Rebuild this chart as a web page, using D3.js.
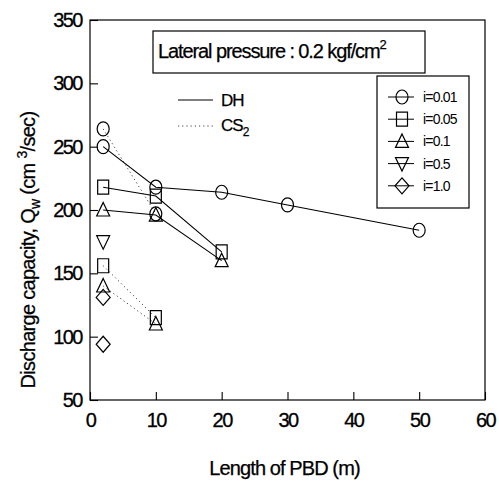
<!DOCTYPE html>
<html>
<head>
<meta charset="utf-8">
<script src="https://cdn.jsdelivr.net/npm/d3@7"></script>
<style>
  body { margin: 0; background: #fff; }
  svg text { font-family: "Liberation Sans", Arial, sans-serif; fill: #000; }
</style>
</head>
<body>
<div id="chart"></div>
<script>
// values: [length of PBD (m), Qw (cm3/sec)]
const xTicks = [0, 10, 20, 30, 40, 50, 60];
const yTicks = [50, 100, 150, 200, 250, 300, 350];

const seriesLabels = ["i=0.01", "i=0.05", "i=0.1", "i=0.5", "i=1.0"];
const seriesShapes = ["circle", "square", "triangle", "triangleDown", "diamond"];

// DH (solid)
const dh001 = [[2, 250], [10, 218], [20, 214], [30, 204], [50, 184]];
const dh005 = [[2, 218], [10, 211], [20, 167]];
const dh01 = [[2, 200], [10, 196], [20, 160]];
const dh05 = [[2, 175]];
const dh10 = [[2, 131]];

// CS2 (dotted)
const cs001 = [[2, 264], [10, 197]];
const cs005 = [[2, 156], [10, 115]];
const cs01 = [[2, 140], [10, 110]];
const cs10 = [[2, 94]];

const dhSeries = [dh001, dh005, dh01, dh05, dh10];
const csSeries = [cs001, cs005, cs01, [], cs10];

const width = 499, height = 484;
const margin = { top: 20, right: 14, bottom: 84, left: 90 };

const svg = d3.select("#chart").append("svg")
    .attr("width", width)
    .attr("height", height);

const x = d3.scaleLinear().domain([0, 60]).range([margin.left, width - margin.right]);
const y = d3.scaleLinear().domain([50, 350]).range([height - margin.bottom, margin.top]);

// marker shapes (hollow, slightly tall like the scan)
function markerPath(shape) {
    switch (shape) {
        case "circle":
            return "M-6,0 A6,7 0 1,0 6,0 A6,7 0 1,0 -6,0 Z";
        case "square":
            return "M-5.5,-7 H5.5 V7 H-5.5 Z";
        case "triangle":
            return "M0,-7.5 L6.5,6 H-6.5 Z";
        case "triangleDown":
            return "M0,7.5 L6.5,-6 H-6.5 Z";
        case "diamond":
            return "M0,-8 L7,0 L0,8 L-7,0 Z";
    }
}

// frame
svg.append("rect")
    .attr("x", x(0)).attr("y", y(350))
    .attr("width", x(60) - x(0)).attr("height", y(50) - y(350))
    .attr("fill", "none").attr("stroke", "#000").attr("stroke-width", 1.2);

// axes with inward ticks
const xAxis = svg.append("g")
    .attr("transform", `translate(0,${y(50)})`)
    .call(d3.axisBottom(x).tickValues(xTicks).tickSize(-8).tickPadding(13).tickFormat(d3.format("d")));
const yAxis = svg.append("g")
    .attr("transform", `translate(${x(0)},0)`)
    .call(d3.axisLeft(y).tickValues(yTicks).tickSize(-8).tickPadding(8).tickFormat(d3.format("d")));

[xAxis, yAxis].forEach(g => {
    g.select(".domain").remove();
    g.selectAll(".tick line").attr("stroke", "#000").attr("stroke-width", 1.1);
    g.selectAll(".tick text")
        .style("font-size", "20px")
        .style("letter-spacing", "-1.5px")
        .attr("stroke", "#000").attr("stroke-width", 0.3);
});

const line = d3.line().x(d => x(d[0])).y(d => y(d[1]));

// lines
svg.append("g").selectAll("path")
    .data(dhSeries.filter(s => s.length > 1))
    .join("path")
    .attr("d", line)
    .attr("fill", "none")
    .attr("stroke", "#000")
    .attr("stroke-width", 1.1);

svg.append("g").selectAll("path")
    .data(csSeries.filter(s => s.length > 1))
    .join("path")
    .attr("d", line)
    .attr("fill", "none")
    .attr("stroke", "#444")
    .attr("stroke-width", 1)
    .attr("stroke-dasharray", "1.2,3");

// markers
const markers = [];
dhSeries.forEach((s, i) => s.forEach(p => markers.push({ p, shape: seriesShapes[i] })));
csSeries.forEach((s, i) => s.forEach(p => markers.push({ p, shape: seriesShapes[i] })));

svg.append("g").selectAll("path")
    .data(markers)
    .join("path")
    .attr("transform", d => `translate(${x(d.p[0])},${y(d.p[1])})`)
    .attr("d", d => markerPath(d.shape))
    .attr("fill", "none")
    .attr("stroke", "#000")
    .attr("stroke-width", 1.2);

// title box
const note = svg.append("g");
note.append("rect")
    .attr("x", 153).attr("y", 31).attr("width", 272).attr("height", 42)
    .attr("fill", "#fff").attr("stroke", "#000").attr("stroke-width", 1.2);
const noteText = note.append("text")
    .attr("x", 158).attr("y", 58)
    .style("font-size", "20px")
    .style("letter-spacing", "-1.1px")
    .attr("stroke", "#000").attr("stroke-width", 0.25);
noteText.append("tspan").text("Lateral pressure : 0.2 kgf/cm");
noteText.append("tspan").attr("dy", -9).style("font-size", "13px").text("2");

// DH / CS2 key
const key = svg.append("g");
key.append("line").attr("x1", 178).attr("x2", 213).attr("y1", 100).attr("y2", 100)
    .attr("stroke", "#000").attr("stroke-width", 1.1);
key.append("text").attr("x", 221).attr("y", 106).style("font-size", "17px")
    .style("letter-spacing", "-1px").attr("stroke", "#000").attr("stroke-width", 0.25).text("DH");
key.append("line").attr("x1", 178).attr("x2", 213).attr("y1", 126).attr("y2", 126)
    .attr("stroke", "#444").attr("stroke-width", 1).attr("stroke-dasharray", "1.2,3");
const csText = key.append("text").attr("x", 221).attr("y", 131).style("font-size", "17px")
    .style("letter-spacing", "-1px").attr("stroke", "#000").attr("stroke-width", 0.25);
csText.append("tspan").text("CS");
csText.append("tspan").attr("dy", 5).style("font-size", "12px").text("2");

// series legend
const legend = svg.append("g");
legend.append("rect")
    .attr("x", 377).attr("y", 76).attr("width", 92).attr("height", 132)
    .attr("fill", "#fff").attr("stroke", "#000").attr("stroke-width", 1.2);
const items = legend.selectAll("g.item")
    .data(seriesLabels)
    .join("g")
    .attr("class", "item")
    .attr("transform", (d, i) => `translate(402,${97 + i * 22.2})`);
items.append("line").attr("x1", -14).attr("x2", 12)
    .attr("stroke", "#000").attr("stroke-width", 1);
items.append("path")
    .attr("d", (d, i) => markerPath(seriesShapes[i]))
    .attr("fill", "none").attr("stroke", "#000").attr("stroke-width", 1.2);
items.append("text")
    .attr("x", 21).attr("y", 5)
    .style("font-size", "14px")
    .style("letter-spacing", "-0.8px")
    .text(d => d);

// axis titles
svg.append("text")
    .attr("x", x(30) - 3).attr("y", 475)
    .attr("text-anchor", "middle")
    .style("font-size", "20px")
    .style("letter-spacing", "-0.9px")
    .attr("stroke", "#000").attr("stroke-width", 0.25)
    .text("Length of PBD (m)");

const yTitle = svg.append("text")
    .attr("transform", "translate(35,250) rotate(-90)")
    .attr("text-anchor", "middle")
    .style("font-size", "20px")
    .style("letter-spacing", "-0.7px")
    .attr("stroke", "#000").attr("stroke-width", 0.25);
yTitle.append("tspan").text("Discharge capacity, Q");
yTitle.append("tspan").attr("dy", 5).style("font-size", "14px").text("w");
yTitle.append("tspan").attr("dy", -5).text(" (cm ");
yTitle.append("tspan").attr("dy", -8).style("font-size", "14px").text("3");
yTitle.append("tspan").attr("dy", 8).text("/sec)");
</script>
</body>
</html>
